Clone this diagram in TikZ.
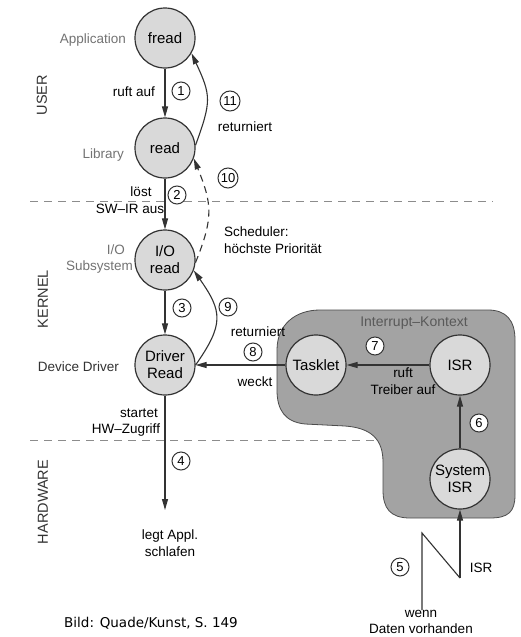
\documentclass[tikz,border=0pt]{standalone}
\usepackage{fontspec}
\setmainfont{Liberation Sans}
\newfontfamily\captionfont{DejaVu Sans}
\usetikzlibrary{arrows.meta,positioning}
\definecolor{circlegray}{gray}{0.85}
\definecolor{blobgray}{gray}{0.64}
\definecolor{linegray}{gray}{0.2}

\begin{document}
\begin{tikzpicture}[x=1pt, y=1pt,
  proc/.style={circle, draw=linegray, line width=1.2pt, fill=circlegray, minimum size=60pt,
    inner sep=0pt, align=center, font=\fontsize{15}{17}\selectfont},
  numcirc/.style={circle, draw=linegray, line width=1pt, fill=white, minimum size=18pt,
    inner sep=0pt, font=\fontsize{13}{13}\selectfont},
  lbl/.style={font=\fontsize{13.5}{16.5}\selectfont, align=center, inner sep=0pt},
  side lbl/.style={lbl, text=black!55},
  layer/.style={font=\fontsize{14.5}{15}\selectfont, rotate=90, inner sep=0pt, text=black!80},
  sep/.style={draw=black!45, line width=1pt, dash pattern=on 8pt off 6pt},
  conn/.style={draw=linegray, line width=1.1pt},
  >={Triangle[length=11pt, width=6pt]}
]
  \fill[white] (0,0) rectangle (521,-637);
  \useasboundingbox (0,0) rectangle (521,-637);
  % Layer separators
  \draw[sep] (30,-201) -- (493,-201);
  \draw[sep] (30,-440) -- (390,-440);
  % Interrupt context
  \filldraw[fill=blobgray, draw=black!70, line width=0.8pt]
    (320,-310) -- (488,-310) .. controls (506,-310) and (515,-320) .. (515,-340)
    -- (515,-495) .. controls (515,-512) and (508,-518) .. (490,-518)
    -- (410,-518) .. controls (390,-518) and (383,-508) .. (383,-490)
    -- (383,-462) .. controls (383,-440) and (372,-428) .. (345,-426)
    -- (305,-424) .. controls (285,-422) and (277,-410) .. (277,-390)
    -- (277,-350) .. controls (277,-325) and (295,-310) .. (320,-310) -- cycle;
  \node[lbl, text=black!65, font=\fontsize{14}{16}\selectfont] (ctx) at (414,-323) {Interrupt--Kontext};
  % Layers
  \node[layer] (user) at (42,-95) {USER};
  \node[layer] (kernel) at (43,-299) {KERNEL};
  \node[layer] (hw) at (43,-502) {HARDWARE};
  % Routines
  \node[proc] (fread) at (165,-38) {fread};
  \node[proc] (read) at (165,-148) {read};
  \node[proc] (ioread) at (165,-260) {I/O\\read};
  \node[proc] (drvread) at (165,-365) {Driver\\Read};
  \node[proc] (tasklet) at (316,-365) {Tasklet};
  \node[proc] (isr) at (460,-365) {ISR};
  \node[proc] (sysisr) at (460,-479) {System\\ISR};
  \node[side lbl, anchor=east] (app) at (126,-40) {Application};
  \node[side lbl, anchor=east] (lib) at (124,-155) {Library};
  \node[side lbl, anchor=east, align=right] (iosub) at (133,-259) {I/O\hspace*{8pt}\\Subsystem};
  \node[lbl, anchor=east, text=black!80] (devdrv) at (119,-367) {Device Driver};
  % Free ends
  \coordinate (sleep) at (165,-510);
  \coordinate (z1) at (422,-610);
  \coordinate (z2) at (422,-533);
  \coordinate (z3) at (460,-578);
  % Calls and returns
  \draw[conn, ->] (fread) -- (read);
  \draw[conn, ->] (read) -- (ioread);
  \draw[conn, ->] (ioread) -- (drvread);
  \draw[conn, ->] (drvread) -- (sleep);
  \draw[conn, ->] (tasklet) -- (drvread);
  \draw[conn, ->] (isr) -- (tasklet);
  \draw[conn, ->] (sysisr) -- (isr);
  \draw[conn] (z1) -- (z2) -- (z3);
  \draw[conn, ->] (z3) -- (sysisr);
  \draw[conn, ->] (drvread.0) to[out=55, in=-55, looseness=1.35] (ioread.-20);
  \draw[conn, ->, dash pattern=on 7pt off 5pt] (ioread.-5) to[out=68, in=-68, looseness=1.2] (read.-20);
  \draw[conn, ->] (read.5) to[out=70, in=-65, looseness=1.3] (fread.-30);
  % Step numbers
  \node[numcirc] (n1) at (181,-91) {1};
  \node[numcirc] (n2) at (177,-195) {2};
  \node[numcirc] (n3) at (182,-308) {3};
  \node[numcirc] (n4) at (181,-461) {4};
  \node[numcirc] (n5) at (400,-567) {5};
  \node[numcirc] (n6) at (479,-423) {6};
  \node[numcirc] (n7) at (375,-346) {7};
  \node[numcirc] (n8) at (253,-352) {8};
  \node[numcirc] (n9) at (228,-307) {9};
  \node[numcirc, minimum size=20pt] (n10) at (228,-178) {10};
  \node[numcirc, minimum size=20pt] (n11) at (230,-101) {11};
  % Edge labels
  \node[lbl] (l1) at (134,-92) {ruft auf};
  \node[lbl] (l2a) at (141,-192) {löst};
  \node[lbl] (l2b) at (130,-209) {SW--IR aus};
  \node[lbl] (l11) at (245,-127) {returniert};
  \node[lbl, anchor=west, align=left] (sched) at (224,-240) {Scheduler:\\höchste Priorität};
  \node[lbl] (l9) at (258,-332) {returniert};
  \node[lbl] (l8) at (255,-382) {weckt};
  \node[lbl] (l7) at (403,-381) {ruft\\Treiber auf};
  \node[lbl] (l4a) at (139,-413) {startet};
  \node[lbl] (l4b) at (126,-430) {HW--Zugriff};
  \node[lbl] (l4c) at (170,-543) {legt Appl.\\schlafen};
  \node[lbl] (l5a) at (481,-568) {ISR};
  \node[lbl] (l5b) at (421,-622) {wenn\\Daten vorhanden};
  \node[inner sep=0pt, font=\captionfont\fontsize{13.5}{15}\selectfont] (cap) at (151,-623) {Bild: Quade/Kunst, S. 149};
\end{tikzpicture}
\end{document}
